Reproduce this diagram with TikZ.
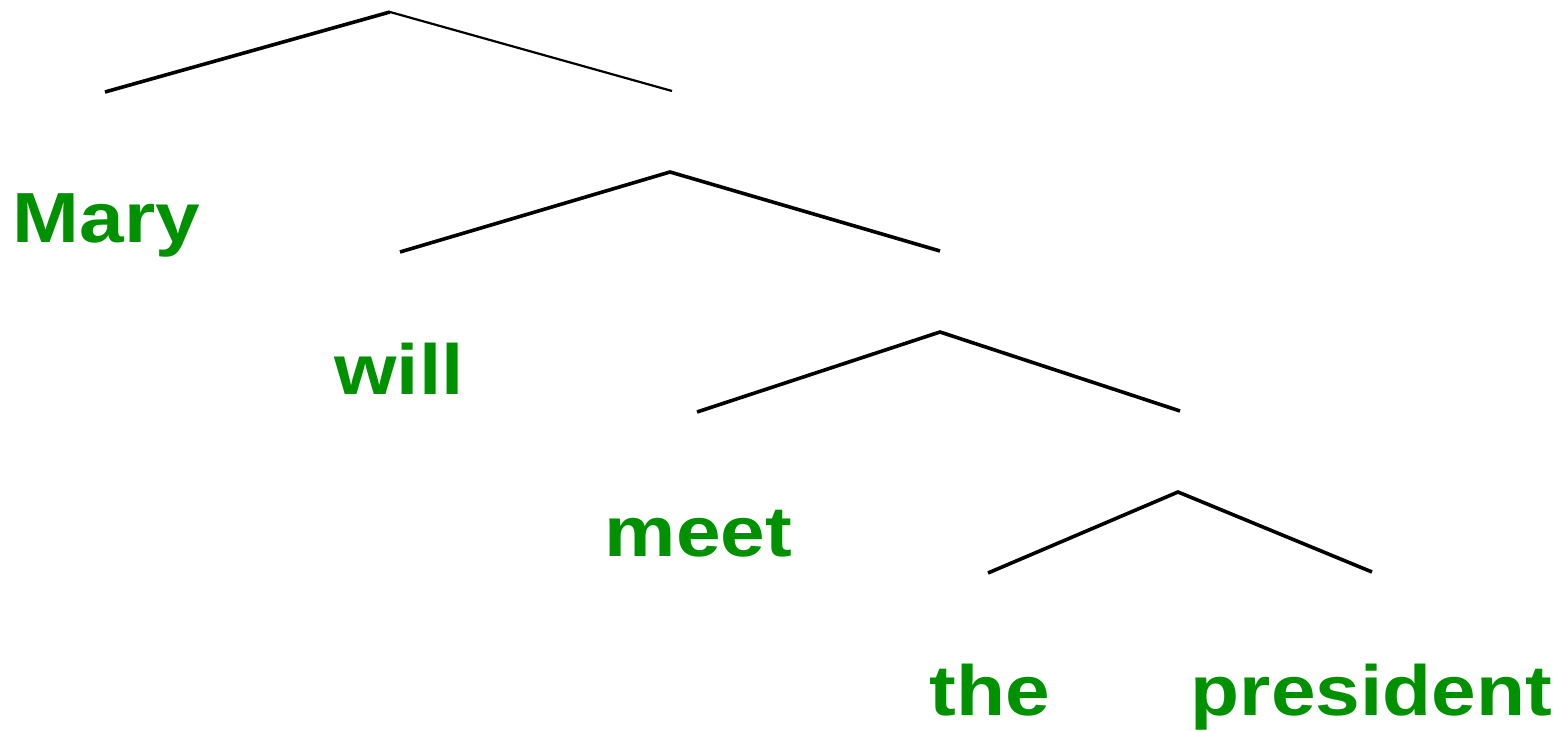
\documentclass[tikz,border=0pt]{standalone}
\usepackage{fontspec}
\setmainfont{Liberation Sans}
\definecolor{wordgreen}{RGB}{0,145,0}
\begin{document}
\begin{tikzpicture}[x=0.5pt,y=-0.5pt,
  branch/.style={line width=1.8pt,black},
  word/.style={anchor=base,inner sep=0pt,text=wordgreen,xscale=1.13,
    font=\fontsize{35.5pt}{40pt}\selectfont\bfseries}]
\useasboundingbox (0,0) rectangle (1561,731);
% tree points
\coordinate (n1) at (390,12);
\coordinate (n1l) at (105,92);
\coordinate (n1r) at (672,91);
\coordinate (n2) at (670,172);
\coordinate (n2l) at (400,252);
\coordinate (n2r) at (940,251);
\coordinate (n3) at (940,332);
\coordinate (n3l) at (697,412);
\coordinate (n3r) at (1180,411);
\coordinate (n4) at (1178,492);
\coordinate (n4l) at (988,573);
\coordinate (n4r) at (1372,572);
\draw[branch] (n1l) -- (n1);
\draw[branch,line width=1.1pt] (n1) -- (n1r);
\draw[branch] (n2l) -- (n2) -- (n2r);
\draw[branch] (n3l) -- (n3) -- (n3r);
\draw[branch] (n4l) -- (n4) -- (n4r);
% words
\node[word] (mary) at (106.5,243) {Mary};
\node[word] (will) at (399,395) {will};
\node[word] (meet) at (698.5,556) {meet};
\node[word] (the) at (990,715) {the};
\node[word] (pres) at (1371.5,715) {president};
\end{tikzpicture}
\end{document}
